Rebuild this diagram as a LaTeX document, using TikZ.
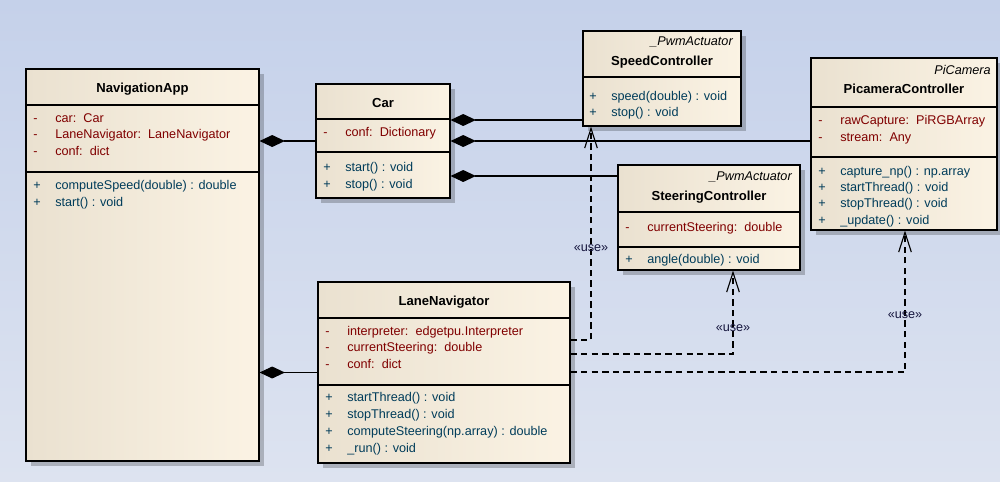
\documentclass[tikz,border=0pt]{standalone}
\usepackage{fontspec}
\setmainfont{Liberation Sans}
\usetikzlibrary{arrows.meta,fit,shadows}

\definecolor{attrred}{RGB}{128,0,0}
\definecolor{methteal}{RGB}{0,60,90}
\definecolor{boxdark}{RGB}{234,225,208}
\definecolor{boxlight}{RGB}{251,243,228}
\definecolor{bgtop}{RGB}{197,209,234}
\definecolor{bgbot}{RGB}{221,227,240}
\definecolor{usetext}{RGB}{20,20,60}

\newcommand{\vis}[1]{\makebox[0.55cm][l]{#1}}

\tikzset{
  classbox/.style={draw, line width=0.8pt, inner sep=0pt, left color=boxdark, right color=boxlight,
    drop shadow={shadow xshift=3.5pt, shadow yshift=-3.5pt, opacity=0.22, fill=black}},
  sepline/.style={line width=0.8pt},
  uml/.style={inner sep=0pt, font=\fontsize{9}{11}\selectfont},
  clstitle/.style={uml, anchor=mid, font=\fontsize{9.3}{11}\selectfont\bfseries},
  stereo/.style={uml, anchor=mid east, font=\fontsize{9}{11}\selectfont\itshape},
  attr/.style={uml, anchor=mid west, text=attrred},
  meth/.style={uml, anchor=mid west, text=methteal},
  uselbl/.style={uml, anchor=mid, text=usetext},
  compo/.style={line width=0.8pt, -{Diamond[length=18pt,width=8.5pt]}},
  usedep/.style={line width=0.8pt, dash pattern=on 4.5pt off 3pt, -{Straight Barb[length=14pt,width=9pt]}}
}

\begin{document}
\begin{tikzpicture}[x=0.025cm,y=-0.025cm]
  \useasboundingbox (0,0) rectangle (1000,481);
  \shade[top color=bgtop, bottom color=bgbot] (0,0) rectangle (1000,481);

  % NavigationApp
  \node[classbox, fit={(26,69) (259,461)}] (nav) {};
  \draw[sepline] (nav.west |- 0,105) -- (nav.east |- 0,105);
  \draw[sepline] (nav.west |- 0,172) -- (nav.east |- 0,172);
  \node[clstitle] (nav-t) at (nav.north |- 0,89) {NavigationApp};
  \node[attr] (nav-a1) at (33,119) {\vis{-}car:~~Car};
  \node[attr] (nav-a2) at (33,135) {\vis{-}LaneNavigator:~~LaneNavigator};
  \node[attr] (nav-a3) at (33,152) {\vis{-}conf:~~dict};
  \node[meth] (nav-m1) at (33,186) {\vis{+}computeSpeed(double) : double};
  \node[meth] (nav-m2) at (33,203) {\vis{+}start() : void};

  % Car
  \node[classbox, fit={(316,84) (450,198)}] (car) {};
  \draw[sepline] (car.west |- 0,119) -- (car.east |- 0,119);
  \draw[sepline] (car.west |- 0,152) -- (car.east |- 0,152);
  \node[clstitle] (car-t) at (car.north |- 0,104) {Car};
  \node[attr] (car-a1) at (323,133) {\vis{-}conf:~~Dictionary};
  \node[meth] (car-m1) at (323,168) {\vis{+}start() : void};
  \node[meth] (car-m2) at (323,185) {\vis{+}stop() : void};

  % SpeedController
  \node[classbox, fit={(583,31) (741,126)}] (speed) {};
  \draw[sepline] (speed.west |- 0,77) -- (speed.east |- 0,77);
  \node[stereo] (speed-s) at (733,42) {\_PwmActuator};
  \node[clstitle] (speed-t) at (speed.north |- 0,62) {SpeedController};
  \node[meth] (speed-m1) at (589,97) {\vis{+}speed(double) : void};
  \node[meth] (speed-m2) at (589,113) {\vis{+}stop() : void};

  % PicameraController
  \node[classbox, fit={(811,58) (997,230)}] (pic) {};
  \draw[sepline] (pic.west |- 0,107) -- (pic.east |- 0,107);
  \draw[sepline] (pic.west |- 0,157) -- (pic.east |- 0,157);
  \node[stereo] (pic-s) at (991,71) {PiCamera};
  \node[clstitle] (pic-t) at (pic.north |- 0,90) {PicameraController};
  \node[attr] (pic-a1) at (818,121) {\vis{-}rawCapture:~~PiRGBArray};
  \node[attr] (pic-a2) at (818,138) {\vis{-}stream:~~Any};
  \node[meth] (pic-m1) at (818,172) {\vis{+}capture\_np() : np.array};
  \node[meth] (pic-m2) at (818,188) {\vis{+}startThread() : void};
  \node[meth] (pic-m3) at (818,204) {\vis{+}stopThread() : void};
  \node[meth] (pic-m4) at (818,221) {\vis{+}\_update() : void};

  % SteeringController
  \node[classbox, fit={(618,165) (800,270)}] (steer) {};
  \draw[sepline] (steer.west |- 0,212) -- (steer.east |- 0,212);
  \draw[sepline] (steer.west |- 0,247) -- (steer.east |- 0,247);
  \node[stereo] (steer-s) at (792,177) {\_PwmActuator};
  \node[clstitle] (steer-t) at (steer.north |- 0,197) {SteeringController};
  \node[attr] (steer-a1) at (625,228) {\vis{-}currentSteering:~~double};
  \node[meth] (steer-m1) at (625,260) {\vis{+}angle(double) : void};

  % LaneNavigator
  \node[classbox, fit={(318,282) (570,463)}] (lane) {};
  \draw[sepline] (lane.west |- 0,318) -- (lane.east |- 0,318);
  \draw[sepline] (lane.west |- 0,385) -- (lane.east |- 0,385);
  \node[clstitle] (lane-t) at (lane.north |- 0,302) {LaneNavigator};
  \node[attr] (lane-a1) at (325,332) {\vis{-}interpreter:~~edgetpu.Interpreter};
  \node[attr] (lane-a2) at (325,348) {\vis{-}currentSteering:~~double};
  \node[attr] (lane-a3) at (325,365) {\vis{-}conf:~~dict};
  \node[meth] (lane-m1) at (325,398) {\vis{+}startThread() : void};
  \node[meth] (lane-m2) at (325,415) {\vis{+}stopThread() : void};
  \node[meth] (lane-m3) at (325,432) {\vis{+}computeSteering(np.array) : double};
  \node[meth] (lane-m4) at (325,449) {\vis{+}\_run() : void};

  % compositions
  \draw[compo] (car.west) -- (nav.east |- car.west);
  \draw[compo] (lane.west) -- (nav.east |- lane.west);
  \draw[compo] (speed.west |- 0,120) -- (car.east |- 0,120);
  \draw[compo] (pic.west |- car.east) -- (car.east);
  \draw[compo] (steer.west |- 0,176) -- (car.east |- 0,176);

  % dependencies
  \draw[usedep] (lane.east |- 0,340) -| (speed.south -| 591,0)
    node[uselbl, pos=0.717] (use-speed) {«use»};
  \draw[usedep] (lane.east |- 0,354) -| (steer.south -| 733,0)
    node[uselbl, pos=0.655] (use-steer) {«use»};
  \draw[usedep] (lane.east |- 0,372) -| (pic.south -| 905,0)
    node[uselbl, pos=0.704] (use-pic) {«use»};
\end{tikzpicture}
\end{document}
